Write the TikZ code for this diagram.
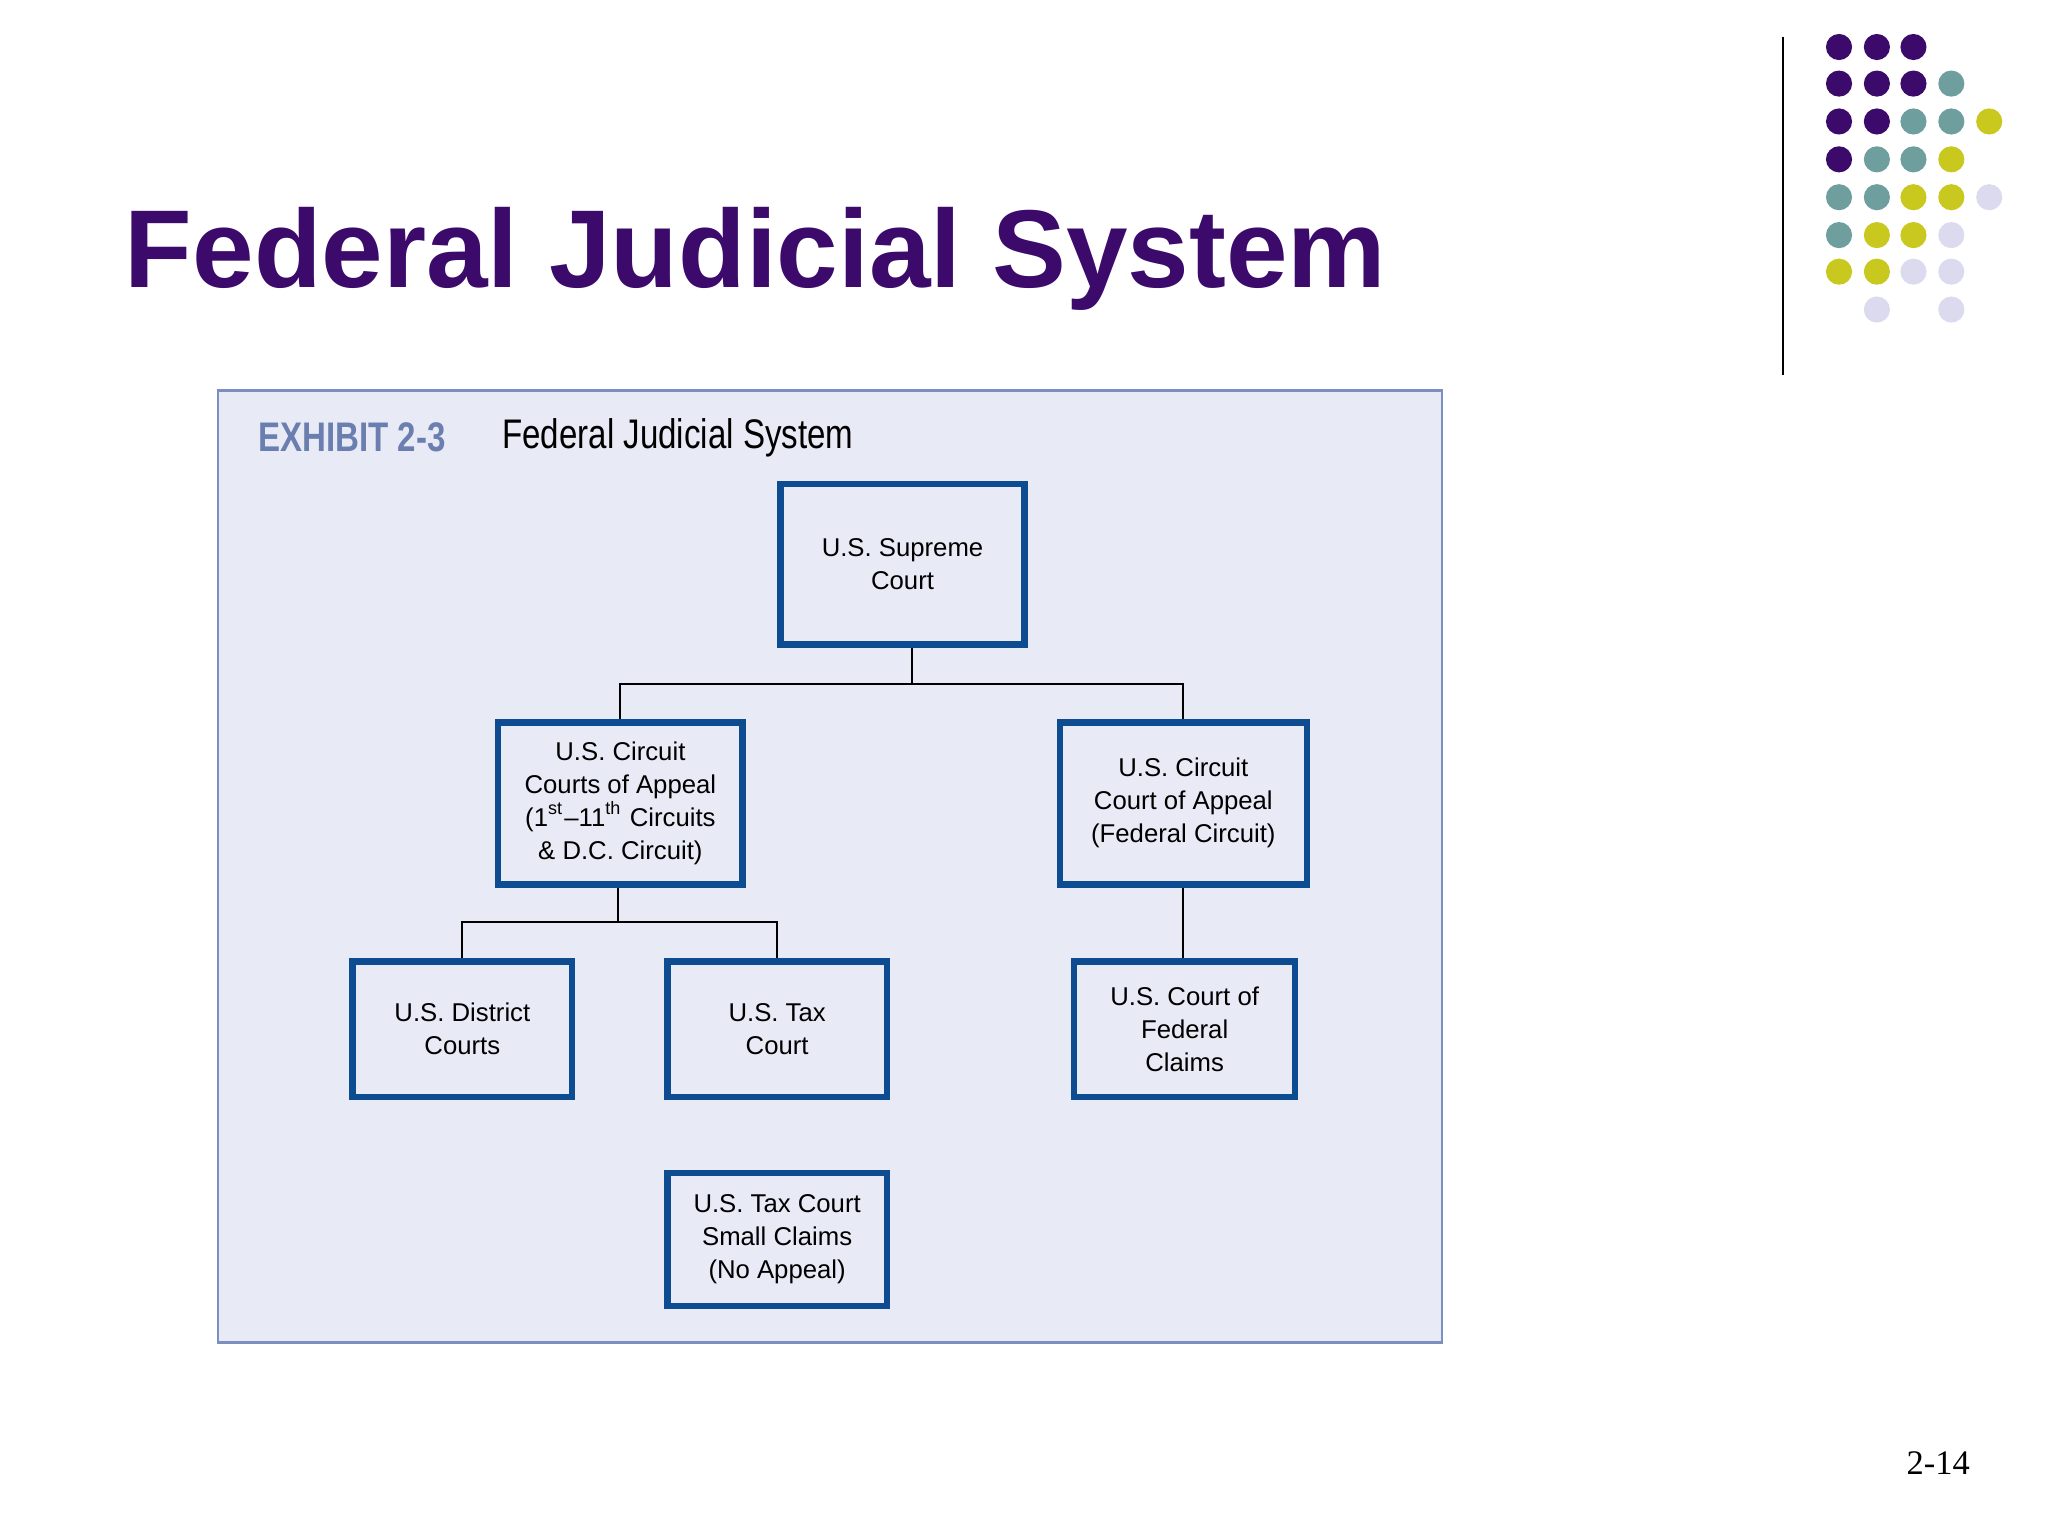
\documentclass[tikz,border=0pt]{standalone}
\usepackage{fontspec}
\setmainfont{Liberation Sans}
\newfontfamily\seriffont{Liberation Serif}
\usetikzlibrary{positioning}
\definecolor{titlepurple}{HTML}{3B0A6B}
\definecolor{dotteal}{HTML}{6E9E9E}
\definecolor{dotyellow}{HTML}{C8C81E}
\definecolor{dotlav}{HTML}{DCDAEE}
\definecolor{panelfill}{HTML}{E8EAF5}
\definecolor{panelline}{HTML}{7B8FC0}
\definecolor{boxblue}{HTML}{0E4C92}
\definecolor{exhibitblue}{HTML}{6A7FB0}
\begin{document}
\begin{tikzpicture}[x=0.01cm,y=-0.01cm]
      \tikzstyle{court} = [rectangle, draw=boxblue, line width=0.05cm, fill=panelfill, align=center,
        font=\fontsize{5.6}{7.2}\selectfont, inner sep=0pt]
      \tikzstyle{link} = [line width=0.015cm, black]
      \tikzstyle{dot} = [circle, inner sep=0pt, minimum size=0.2cm]
      \tikzstyle{head} = [anchor=west, xscale=0.8, transform shape, font=\fontsize{9}{11}\selectfont]
      \useasboundingbox (0,0) rectangle (1568,1176);
      % title and corner
      \node (title) [anchor=base west, inner sep=0pt, text=titlepurple, font=\fontsize{24.1}{28}\selectfont\bfseries] at (95,220) {Federal Judicial System};
      \draw [line width=0.015cm] (1365,28)--(1365,287);
      \foreach \x/\y/\c in {1408/36/titlepurple,1437/36/titlepurple,1465/36/titlepurple,
        1408/64/titlepurple,1437/64/titlepurple,1465/64/titlepurple,1494/64/dotteal,
        1408/93/titlepurple,1437/93/titlepurple,1465/93/dotteal,1494/93/dotteal,1523/93/dotyellow,
        1408/122/titlepurple,1437/122/dotteal,1465/122/dotteal,1494/122/dotyellow,
        1408/151/dotteal,1437/151/dotteal,1465/151/dotyellow,1494/151/dotyellow,1523/151/dotlav,
        1408/180/dotteal,1437/180/dotyellow,1465/180/dotyellow,1494/180/dotlav,
        1408/208/dotyellow,1437/208/dotyellow,1465/208/dotlav,1494/208/dotlav,
        1437/237/dotlav,1494/237/dotlav}
        \node [dot, fill=\c] at (\x,\y) {};
      % exhibit panel
      \draw [panelline, fill=panelfill, line width=0.02cm] (167,299) rectangle (1104,1028);
      \node (exhibit) [head, inner sep=0pt, text=exhibitblue, font=\fontsize{9}{11}\selectfont\bfseries] at (197,335) {EXHIBIT 2-3};
      \node (caption) [head, inner sep=0pt] at (384,335) {Federal Judicial System};
      % courts
      \node (supreme) [court, minimum width=1.87cm, minimum height=1.23cm] at (691,432) {U.S. Supreme\\Court};
      \node (circuit) [court, minimum width=1.87cm, minimum height=1.24cm] at (475,615) {U.S. Circuit\\Courts of Appeal\\(1$^{\rm st}$--11$^{\rm th}$ Circuits\\\& D.C. Circuit)};
      \node (federal) [court, minimum width=1.89cm, minimum height=1.24cm] at (906,615) {U.S. Circuit\\Court of Appeal\\(Federal Circuit)};
      \node (district) [court, minimum width=1.68cm, minimum height=1.04cm] at (354,788) {U.S. District\\Courts};
      \node (tax) [court, minimum width=1.68cm, minimum height=1.04cm] at (595,788) {U.S. Tax\\Court};
      \node (claims) [court, minimum width=1.69cm, minimum height=1.04cm] at (907,788) {U.S. Court of\\Federal\\Claims};
      \node (small) [court, minimum width=1.68cm, minimum height=1.02cm] at (595,949) {U.S. Tax Court\\Small Claims\\(No Appeal)};
      \coordinate (s1) at (698,524);
      \coordinate (c1) at (473,706);
      \draw [link] (supreme.south -| s1)--(s1);
      \draw [link] (circuit.north)|-(s1)-|(federal.north);
      \draw [link] (circuit.south -| c1)--(c1);
      \draw [link] (district.north)|-(c1)-|(tax.north);
      \draw [link] (federal.south)--(federal.south |- claims.north);
      \node (page) [font=\seriffont\fontsize{7.5}{9}\selectfont] at (1484,1120) {2-14};
\end{tikzpicture}
\end{document}
